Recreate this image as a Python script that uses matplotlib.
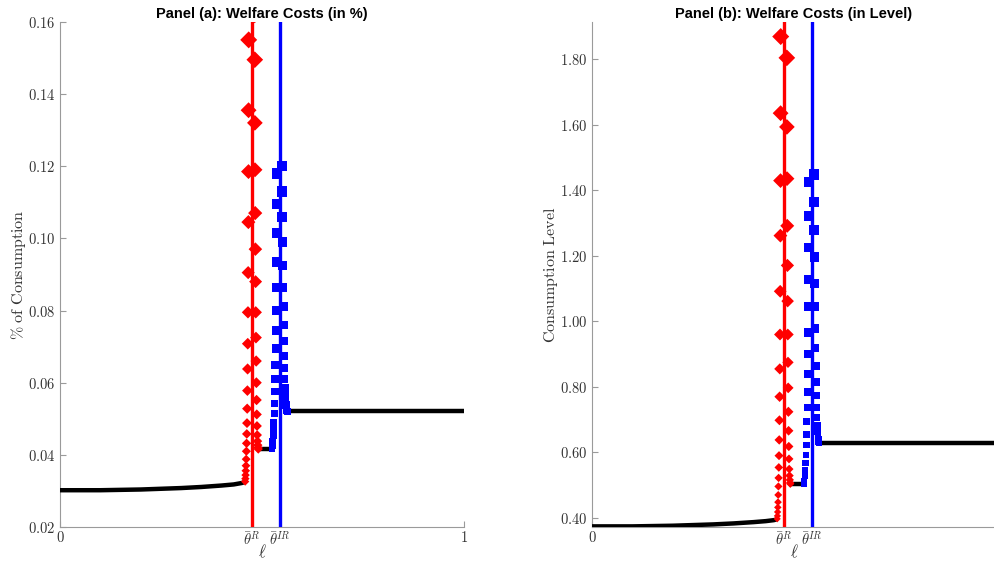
import numpy as np
import matplotlib.pyplot as plt

plt.rcParams['mathtext.fontset'] = 'cm'

# thresholds on the x axis
theta_r = 0.4745
theta_ir = 0.5435

# ---- Panel (a): welfare costs in % ----
# black segments
blk_a1_x = [0.0, 0.05, 0.10, 0.15, 0.20, 0.25, 0.30, 0.35, 0.40, 0.43, 0.45, 0.4584]
blk_a1_y = [0.0302, 0.0302, 0.0302, 0.0303, 0.0304, 0.0306, 0.0308, 0.0311, 0.0315, 0.0318, 0.0322, 0.0325]
blk_a2_x = [0.4908, 0.5247]
blk_a2_y = [0.0416, 0.0416]
blk_a3_x = [0.5623, 1.0]
blk_a3_y = [0.0521, 0.0521]

# red diamonds around theta_R
red_left_x = [0.4584, 0.4589, 0.4594, 0.4599, 0.4604, 0.4609, 0.4614, 0.4619, 0.4624, 0.4629,
              0.4634, 0.4639, 0.4644, 0.4648, 0.4653, 0.4658, 0.4663, 0.4666, 0.4668, 0.4671]
red_a_left_y = [0.0326, 0.0334, 0.0344, 0.0356, 0.0370, 0.0388, 0.0410, 0.0432, 0.0458, 0.0488,
                0.0528, 0.0578, 0.0638, 0.0708, 0.0795, 0.0905, 0.1045, 0.1185, 0.1355, 0.1550]
red_right_x = [0.4819, 0.4822, 0.4824, 0.4827, 0.4832, 0.4837, 0.4842, 0.4846, 0.4851, 0.4856,
               0.4861, 0.4866, 0.4871, 0.4876, 0.4881, 0.4889, 0.4896, 0.4903, 0.4908]
red_a_right_y = [0.1620, 0.1495, 0.1320, 0.1190, 0.1070, 0.0970, 0.0880, 0.0795, 0.0725, 0.0660,
                 0.0600, 0.0552, 0.0512, 0.0480, 0.0455, 0.0438, 0.0427, 0.0420, 0.0416]

# blue squares around theta_IR
blue_left_x = [0.5247, 0.5257, 0.5267, 0.5277, 0.5286, 0.5296, 0.5304, 0.5311, 0.5319, 0.5326,
               0.5334, 0.5341, 0.5346, 0.5351, 0.5356, 0.5361, 0.5366, 0.5371, 0.5373]
blue_a_left_y = [0.0417, 0.0425, 0.0438, 0.0452, 0.0470, 0.0490, 0.0515, 0.0542, 0.0575, 0.0610,
                 0.0650, 0.0695, 0.0745, 0.0800, 0.0865, 0.0935, 0.1015, 0.1095, 0.1180]
blue_right_x = [0.5497, 0.5499, 0.5504, 0.5509, 0.5514, 0.5519, 0.5524, 0.5529, 0.5534, 0.5541,
                0.5549, 0.5556, 0.5564, 0.5574, 0.5584, 0.5593, 0.5603, 0.5613, 0.5623]
blue_a_right_y = [0.1200, 0.1130, 0.1060, 0.0990, 0.0925, 0.0865, 0.0810, 0.0760, 0.0715, 0.0675,
                  0.0640, 0.0610, 0.0585, 0.0565, 0.0550, 0.0538, 0.0530, 0.0524, 0.0521]

# ---- Panel (b): welfare costs in level ----
blk_b1_x = blk_a1_x
blk_b1_y = [0.374, 0.374, 0.374, 0.375, 0.376, 0.378, 0.380, 0.383, 0.387, 0.390, 0.393, 0.396]
blk_b2_x = blk_a2_x
blk_b2_y = [0.504, 0.504]
blk_b3_x = blk_a3_x
blk_b3_y = [0.629, 0.629]

red_b_left_y = [0.397, 0.406, 0.418, 0.432, 0.448, 0.470, 0.496, 0.522, 0.554, 0.590,
                0.638, 0.698, 0.770, 0.855, 0.960, 1.092, 1.262, 1.430, 1.636, 1.870]
red_b_right_y = [1.955, 1.805, 1.594, 1.436, 1.292, 1.171, 1.062, 0.960, 0.875, 0.797,
                 0.724, 0.666, 0.618, 0.580, 0.549, 0.529, 0.516, 0.507, 0.504]
blue_b_left_y = [0.504, 0.513, 0.529, 0.546, 0.568, 0.592, 0.622, 0.654, 0.694, 0.737,
                 0.785, 0.839, 0.900, 0.966, 1.045, 1.129, 1.226, 1.323, 1.425]
blue_b_right_y = [1.449, 1.365, 1.280, 1.196, 1.117, 1.045, 0.978, 0.918, 0.864, 0.815,
                  0.773, 0.737, 0.707, 0.683, 0.664, 0.650, 0.640, 0.633, 0.629]

fig = plt.figure(figsize=(9.95, 5.67), dpi=100)
ax_a = fig.add_axes([0.0603, 0.0705, 0.406, 0.891])
ax_b = fig.add_axes([0.595, 0.0705, 0.406, 0.891])


def draw_panel(ax, blk, red, blue, ylim, yticks, title, ylabel, xticklabels):
    # marker size grows with value, as in the original figure
    lo, hi = ylim
    for bx, by in blk:
        ax.plot(bx, by, color='black', lw=3.2, solid_capstyle='butt', zorder=3)
    for rx, ry in red:
        ry = np.array(ry)
        sizes = 12 + 65 * np.clip((ry - lo) / (hi - lo), 0, 1)
        ax.scatter(rx, ry, s=sizes, marker='D', color='red', zorder=5, linewidths=0)
    for bx, by in blue:
        by = np.array(by)
        sizes = 12 + 65 * np.clip((by - lo) / (hi - lo), 0, 1)
        ax.scatter(bx, by, s=sizes, marker='s', color='blue', zorder=5, linewidths=0)
    ax.axvline(theta_r, color='red', lw=2.4, zorder=6)
    ax.axvline(theta_ir, color='blue', lw=2.4, zorder=6)

    ax.set_xlim(0, 1)
    ax.set_ylim(*ylim)
    ax.set_xticks([0, theta_r, theta_ir, 1])
    ax.set_xticklabels(xticklabels)
    ax.set_yticks(yticks)
    ax.set_yticklabels([r'$%.2f$' % t for t in yticks])
    for s in ['top', 'right']:
        ax.spines[s].set_visible(False)
    for s in ['left', 'bottom']:
        ax.spines[s].set_color('#9a9a9a')
        ax.spines[s].set_linewidth(0.8)
    ax.tick_params(direction='in', length=4, width=0.8, color='#9a9a9a',
                   labelcolor='#333333', labelsize=10.5)
    ax.tick_params(axis='x', pad=2)
    ax.set_title(title, fontsize=10.5, fontweight='bold', family='Liberation Sans', pad=3)
    ax.set_ylabel(ylabel, fontsize=11.5, color='#333333', labelpad=0)
    ax.set_xlabel(r'$\ell$', fontsize=12, color='#333333', labelpad=-3)


draw_panel(ax_a,
           [(blk_a1_x, blk_a1_y), (blk_a2_x, blk_a2_y), (blk_a3_x, blk_a3_y)],
           [(red_left_x, red_a_left_y), (red_right_x, red_a_right_y)],
           [(blue_left_x, blue_a_left_y), (blue_right_x, blue_a_right_y)],
           (0.02, 0.16), [0.02, 0.04, 0.06, 0.08, 0.10, 0.12, 0.14, 0.16],
           'Panel (a): Welfare Costs (in %)',
           r'$\%\ \mathrm{of\ Consumption}$',
           [r'$0$', r'$\bar{\theta}^{R}$', r'$\bar{\theta}^{IR}$', r'$1$'])

draw_panel(ax_b,
           [(blk_b1_x, blk_b1_y), (blk_b2_x, blk_b2_y), (blk_b3_x, blk_b3_y)],
           [(red_left_x, red_b_left_y), (red_right_x, red_b_right_y)],
           [(blue_left_x, blue_b_left_y), (blue_right_x, blue_b_right_y)],
           (0.372, 1.915), [0.40, 0.60, 0.80, 1.00, 1.20, 1.40, 1.60, 1.80],
           'Panel (b): Welfare Costs (in Level)',
           r'$\mathrm{Consumption\ Level}$',
           [r'$0$', r'$\bar{\theta}^{R}$', r'$\bar{\theta}^{IR}$', ''])

fig.savefig('out.png', dpi=100)
